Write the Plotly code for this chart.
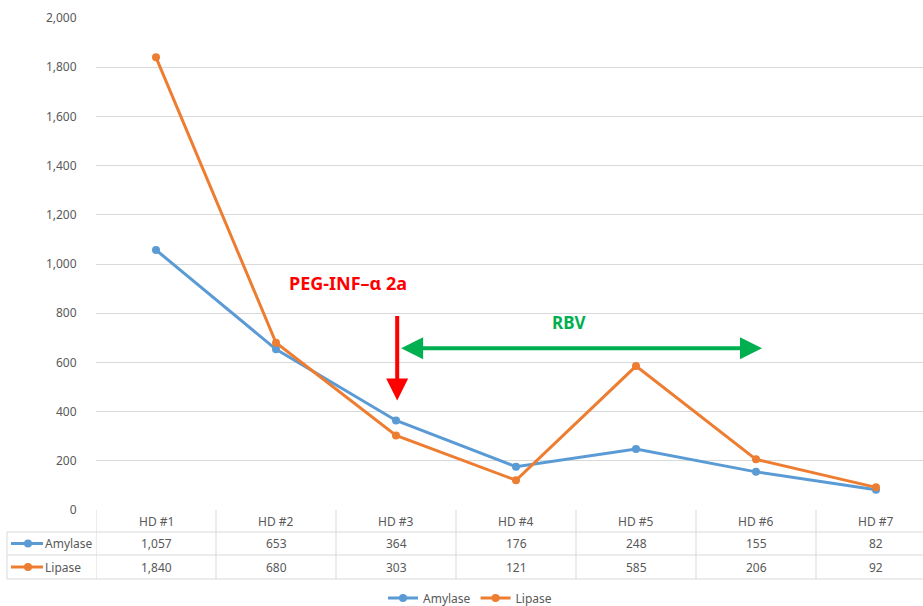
import plotly.graph_objects as go

categories = ["HD #1", "HD #2", "HD #3", "HD #4", "HD #5", "HD #6", "HD #7"]
amylase = [1057, 653, 364, 176, 248, 155, 82]
lipase = [1840, 680, 303, 121, 585, 206, 92]
y_ticks = [0, 200, 400, 600, 800, 1000, 1200, 1400, 1600, 1800, 2000]

BLUE = "#5B9BD5"
ORANGE = "#ED7D31"
GRID = "#D9D9D9"
TXT = "#595959"
FONT = "Noto Sans"

W, H = 923, 606
ML, MT, MB = 96, 18, 96
PH = H - MT - MB          # plot height in px
PW = W - ML               # plot width in px

def py(px):   # pixel y -> paper y
    return (H - MB - px) / PH

def pxx(px):  # pixel x -> paper x
    return (px - ML) / PW

xs = list(range(len(categories)))

fig = go.Figure()
fig.add_trace(go.Scatter(x=xs, y=amylase, name="Amylase", mode="lines+markers",
                         line=dict(color=BLUE, width=3), marker=dict(size=8, color=BLUE),
                         text=categories, hovertemplate="%{text}: %{y:,}<extra>Amylase</extra>"))
fig.add_trace(go.Scatter(x=xs, y=lipase, name="Lipase", mode="lines+markers",
                         line=dict(color=ORANGE, width=3), marker=dict(size=8, color=ORANGE),
                         text=categories, hovertemplate="%{text}: %{y:,}<extra>Lipase</extra>"))

shapes = []
annotations = []

# table geometry (pixels)
row_lines = [532, 555, 579]
row_centers = [521, 543.5, 567]
left_px = 7

# horizontal lines
for r in row_lines:
    shapes.append(dict(type="line", xref="paper", yref="paper", x0=pxx(left_px), x1=1.0,
                       y0=py(r), y1=py(r), line=dict(color=GRID, width=1)))
# left border of label column
shapes.append(dict(type="line", xref="paper", yref="paper", x0=pxx(left_px), x1=pxx(left_px),
                   y0=py(row_lines[0]), y1=py(row_lines[-1]), line=dict(color=GRID, width=1)))
# vertical column separators
for i in range(len(categories)):
    shapes.append(dict(type="line", xref="x", yref="paper", x0=i - 0.5, x1=i - 0.5,
                       y0=0, y1=py(row_lines[-1]), line=dict(color=GRID, width=1)))

def cell(x, y, text, xref="x", xanchor="center"):
    return dict(x=x, y=y, xref=xref, yref="paper", text=text, showarrow=False,
                xanchor=xanchor, yanchor="middle",
                font=dict(family=FONT, size=12, color=TXT))

# header + values
for i, c in enumerate(categories):
    annotations.append(cell(i, py(row_centers[0]), c))
    annotations.append(cell(i, py(row_centers[1]), f"{amylase[i]:,}"))
    annotations.append(cell(i, py(row_centers[2]), f"{lipase[i]:,}"))

# row legend keys
for name, color, rc in [("Amylase", BLUE, row_centers[1]), ("Lipase", ORANGE, row_centers[2])]:
    shapes.append(dict(type="line", xref="paper", yref="paper", x0=pxx(11), x1=pxx(43),
                       y0=py(rc), y1=py(rc), line=dict(color=color, width=3)))
    shapes.append(dict(type="circle", xref="paper", yref="paper", x0=pxx(24), x1=pxx(32),
                       y0=py(rc + 4), y1=py(rc - 4), fillcolor=color, line=dict(color=color, width=0)))
    annotations.append(cell(pxx(43), py(rc), name, xref="paper", xanchor="left"))

# PEG-INF label and red arrow
annotations.append(dict(x=1.6, y=923, xref="x", yref="y", text="<b>PEG-INF\u2013\u03b1 2a</b>",
                        showarrow=False, font=dict(family=FONT, size=18, color="#FF0000")))
annotations.append(dict(x=2.01, y=445, xref="x", yref="y", ax=2.01, ay=795, axref="x", ayref="y",
                        text="", showarrow=True, arrowhead=2, arrowsize=1.1, arrowwidth=4,
                        arrowcolor="#FF0000"))
# RBV label and green double arrow
annotations.append(dict(x=3.44, y=764, xref="x", yref="y", text="<b>RBV</b>",
                        showarrow=False, font=dict(family=FONT, size=17, color="#00B050")))
annotations.append(dict(x=5.05, y=658, xref="x", yref="y", ax=2.03, ay=658, axref="x", ayref="y",
                        text="", showarrow=True, arrowhead=2, startarrowhead=2, arrowside="end+start",
                        arrowsize=1.1, arrowwidth=4, arrowcolor="#00B050"))

fig.update_layout(
    width=W, height=H,
    margin=dict(l=ML, r=0, t=MT, b=MB, autoexpand=False),
    paper_bgcolor="white", plot_bgcolor="white",
    font=dict(family=FONT, size=12, color=TXT),
    showlegend=True,
    legend=dict(orientation="h", x=pxx(470), xanchor="center", y=py(598), yanchor="middle",
                font=dict(family=FONT, size=12, color=TXT), itemwidth=30),
    xaxis=dict(range=[-0.5, (W - ML) / 120 - 0.5], showticklabels=False, showgrid=False,
               zeroline=False, showline=False, fixedrange=True),
    yaxis=dict(range=[0, 2000], tickvals=y_ticks, tickformat=",", showgrid=True, gridcolor=GRID,
               gridwidth=1, zeroline=False, showline=False, ticks="outside", ticklen=16,
               tickcolor="rgba(0,0,0,0)", tickfont=dict(family=FONT, size=12, color=TXT)),
    shapes=shapes, annotations=annotations,
)

fig.write_html("out.html", config={"displayModeBar": False},
               post_script="document.body.style.margin='0';document.body.style.overflow='hidden';")
